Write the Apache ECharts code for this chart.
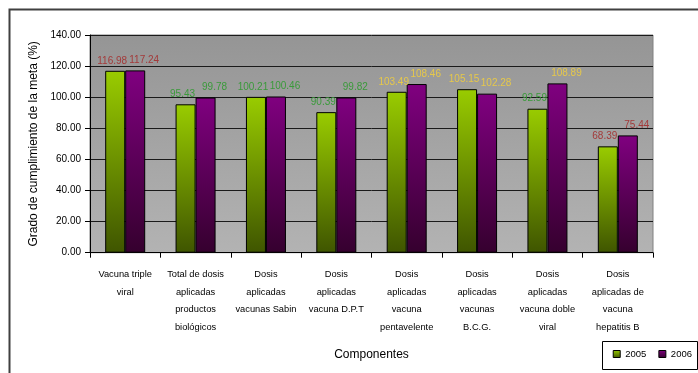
<!DOCTYPE html>
<html><head><meta charset="utf-8">
<script src="https://cdn.jsdelivr.net/npm/echarts@6/dist/echarts.min.js"></script>
<style>html,body{margin:0;padding:0;background:#fff}#c{width:698px;height:373px}</style>
</head><body><div id="c"></div>
<script>
var categories = [
  "Vacuna triple\nviral",
  "Total de dosis\naplicadas\nproductos\nbiológicos",
  "Dosis\naplicadas\nvacunas Sabin",
  "Dosis\naplicadas\nvacuna D.P.T",
  "Dosis\naplicadas\nvacuna\npentavelente",
  "Dosis\naplicadas\nvacunas\nB.C.G.",
  "Dosis\naplicadas\nvacuna doble\nviral",
  "Dosis\naplicadas de\nvacuna\nhepatitis B"
];
var values2005 = [116.98, 95.43, 100.21, 90.39, 103.49, 105.15, 92.59, 68.39];
var values2006 = [117.24, 99.78, 100.46, 99.82, 108.46, 102.28, 108.89, 75.44];
var yTicks = [0, 20, 40, 60, 80, 100, 120, 140];

function labelColor(v){
  if (v >= 90 && v <= 101) return '#3a9a3a';
  if (v > 101 && v <= 110) return '#e6c84a';
  return '#a33a3a';
}
function grad(top, bottom){
  return new echarts.graphic.LinearGradient(0,0,0,1,[{offset:0,color:top},{offset:1,color:bottom}]);
}
function mk(vals){
  return vals.map(function(v){
    return {value:v, label:{color:labelColor(v)}};
  });
}
var font = 'Liberation Sans, Arial, sans-serif';
var chart = echarts.init(document.getElementById('c'));
chart.setOption({
  animation:false,
  textStyle:{fontFamily:font},
  graphic:[
    {type:'rect', shape:{x:9.5,y:9.5,width:720,height:400}, style:{fill:'none',stroke:'#404040',lineWidth:2}, z:-10},
    {type:'rect', shape:{x:90,y:35,width:563,height:217.7}, style:{fill:grad('#959595','#b3b3b3'), stroke:'#808080', lineWidth:1}, z:-5},
    {type:'rect', shape:{x:602.5,y:341.5,width:95,height:28}, style:{fill:'#fff',stroke:'#000',lineWidth:1}, z:-1}
  ],
  grid:{left:90, right:45, top:35, bottom:120.3},
  legend:{
    right:6, top:349, itemWidth:7, itemHeight:7, itemGap:12, icon:'rect', padding:0,
    textStyle:{fontSize:9.5, color:'#000', fontFamily:font},
    itemStyle:{borderColor:'#000', borderWidth:1},
    data:['2005','2006']
  },
  xAxis:{
    type:'category', data:categories,
    name:'Componentes', nameLocation:'middle', nameGap:96,
    nameTextStyle:{fontSize:12, color:'#000'},
    axisLine:{lineStyle:{color:'#000',width:1}},
    axisTick:{show:true, length:5, lineStyle:{color:'#000'}},
    axisLabel:{fontSize:9.3, color:'#000', lineHeight:17.6, margin:13, interval:0},
    splitLine:{show:false}
  },
  yAxis:{
    type:'value', min:yTicks[0], max:yTicks[yTicks.length-1], interval:20,
    name:'Grado de cumplimiento de la meta (%)', nameLocation:'middle', nameGap:43,
    nameTextStyle:{fontSize:12, color:'#000'},
    axisLine:{show:true, lineStyle:{color:'#000'}},
    axisTick:{show:true, length:5, lineStyle:{color:'#000'}},
    axisLabel:{fontSize:10, color:'#000', margin:9, formatter:function(v){return v.toFixed(2);}},
    splitLine:{lineStyle:{color:'#1a1a1a', width:1}}
  },
  series:[
    {name:'2005', type:'bar', data:mk(values2005), barWidth:20, barGap:'0%',
     itemStyle:{color:grad('#99cc00','#3f5500'), borderColor:'#000', borderWidth:1},
     label:{show:true, position:'top', distance:5, offset:[-3,0], fontSize:10, fontFamily:font, formatter:function(p){return p.value.toFixed(2);}}
    },
    {name:'2006', type:'bar', data:mk(values2006), barWidth:20,
     itemStyle:{color:grad('#800080','#35002e'), borderColor:'#000', borderWidth:1},
     label:{show:true, position:'top', distance:5, offset:[9,0], fontSize:10, fontFamily:font, formatter:function(p){return p.value.toFixed(2);}}
    }
  ]
});
</script></body></html>
